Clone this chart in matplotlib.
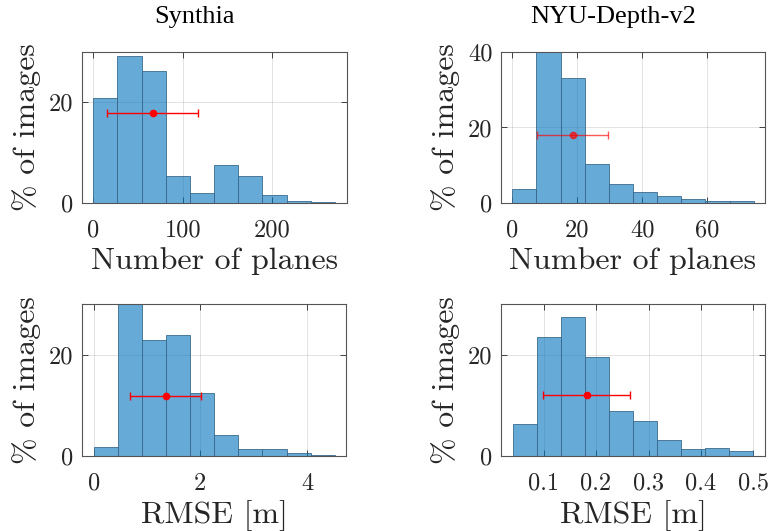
import numpy as np
import matplotlib
matplotlib.use("Agg")
import matplotlib.pyplot as plt

# histogram data (percent of images per bin)
syn_planes_edges = np.linspace(0, 270, 11)
syn_planes_pct = [20.9, 29.3, 26.3, 5.3, 1.9, 7.6, 5.3, 1.66, 0.46, 0.13]
syn_planes_mean, syn_planes_std, syn_planes_y = 66.5, 51.0, 17.9

nyu_planes_edges = np.linspace(0, 74.3, 11)
nyu_planes_pct = [3.6, 40.5, 33.1, 10.3, 5.0, 2.9, 1.9, 1.06, 0.44, 0.53]
nyu_planes_mean, nyu_planes_std, nyu_planes_y = 18.6, 11.0, 17.9

syn_rmse_edges = np.linspace(0, 4.52, 11)
syn_rmse_pct = [1.7, 31.0, 22.9, 23.9, 12.5, 4.2, 1.33, 1.33, 0.53, 0.2]
syn_rmse_mean, syn_rmse_std, syn_rmse_y = 1.35, 0.66, 11.9

nyu_rmse_edges = np.linspace(0.041, 0.5, 11)
nyu_rmse_pct = [6.4, 23.4, 27.4, 19.5, 8.8, 7.0, 3.1, 1.3, 1.5, 1.05]
nyu_rmse_mean, nyu_rmse_std, nyu_rmse_y = 0.182, 0.083, 12.0

titles = ["Synthia", "NYU-Depth-v2"]

face = (0.0, 0.447, 0.741, 0.6)
edge = "#3c6a8c"
axcol = "#262626"

W, H = 774, 531
fig = plt.figure(figsize=(W / 100, H / 100), dpi=100)

def px_axes(l, t, r, b):
    return fig.add_axes([l / W, 1 - b / H, (r - l) / W, (b - t) / H])

panels = [
    (px_axes(82, 52, 347, 203), syn_planes_edges, syn_planes_pct, syn_planes_mean, syn_planes_std, syn_planes_y,
     (-12.6, 283.5), 30, [0, 100, 200], ["0", "100", "200"], [0, 20], "Number of planes", 1.0),
    (px_axes(501, 52, 765, 203), nyu_planes_edges, nyu_planes_pct, nyu_planes_mean, nyu_planes_std, nyu_planes_y,
     (-3.5, 77.8), 40, [0, 20, 40, 60], ["0", "20", "40", "60"], [0, 20, 40], "Number of planes", 0.65),
    (px_axes(82, 304, 346, 456), syn_rmse_edges, syn_rmse_pct, syn_rmse_mean, syn_rmse_std, syn_rmse_y,
     (-0.218, 4.73), 30, [0, 2, 4], ["0", "2", "4"], [0, 20], "RMSE [m]", 1.0),
    (px_axes(501, 304, 765, 456), nyu_rmse_edges, nyu_rmse_pct, nyu_rmse_mean, nyu_rmse_std, nyu_rmse_y,
     (0.0189, 0.522), 30, [0.1, 0.2, 0.3, 0.4, 0.5], ["0.1", "0.2", "0.3", "0.4", "0.5"], [0, 20], "RMSE [m]", 1.0),
]

cm = "cmr10"
for i, (ax, edges, pct, mu, sd, ey, xl, ytop, xt, xtl, yt, xlabel, ealpha) in enumerate(panels):
    ax.set_axisbelow(True)
    ax.grid(True, color="#262626", alpha=0.15, linewidth=0.6)
    ax.bar(edges[:-1], pct, width=np.diff(edges), align="edge",
           color=face, edgecolor=edge, linewidth=0.6)
    ax.errorbar([mu], [ey], xerr=[sd], fmt=".", color="red", ecolor="red",
                markersize=9, capsize=3, elinewidth=1.0, capthick=1.0, alpha=ealpha)
    ax.set_xlim(*xl)
    ax.set_ylim(0, ytop)
    ax.set_xticks(xt)
    ax.set_xticklabels(xtl, fontfamily=cm, fontsize=17.5)
    ax.set_yticks(yt)
    ax.set_yticklabels([str(v) for v in yt], fontfamily=cm, fontsize=17.5)
    ax.tick_params(direction="in", top=True, right=True, length=4, width=0.6, colors=axcol)
    ax.tick_params(axis="x", pad=12)
    ax.tick_params(axis="y", pad=6)
    for s in ax.spines.values():
        s.set_color("#555555")
        s.set_linewidth(0.8)
    ax.set_xlabel(xlabel, fontfamily=cm, fontsize=23, color=axcol, labelpad=4)
    ax.set_ylabel("% of images", fontfamily=cm, fontsize=23, color=axcol, labelpad=6)

# titles sit left of the axes centre, as in the original
fig.text(194 / W, 1 - 17 / H, titles[0], fontfamily="Liberation Serif", fontsize=19,
         ha="center", va="center")
fig.text(613 / W, 1 - 17 / H, titles[1], fontfamily="Liberation Serif", fontsize=19,
         ha="center", va="center")

fig.savefig("out.png", dpi=100)
